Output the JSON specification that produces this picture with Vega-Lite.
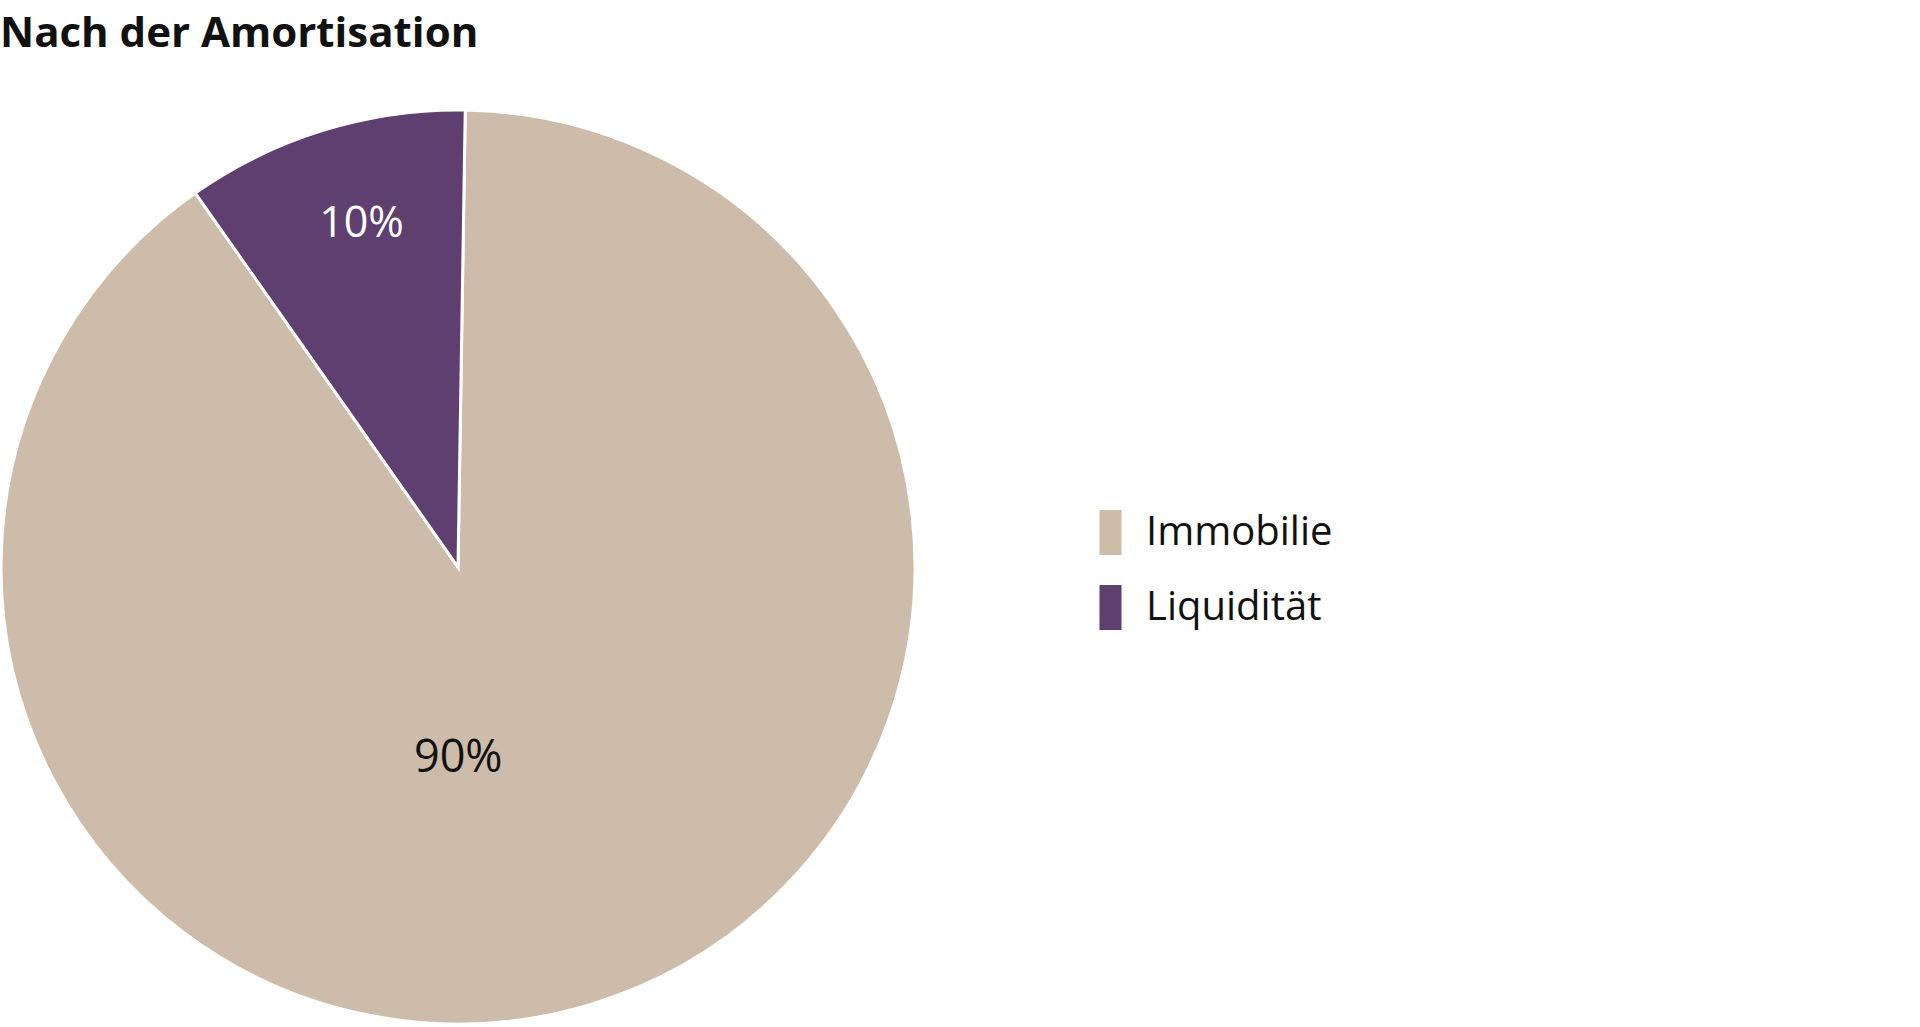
{
  "$schema": "https://vega.github.io/schema/vega-lite/v6.json",
  "autosize": {"type": "none"},
  "padding": {"left": 0, "top": 100, "right": 1004, "bottom": 0},
  "width": 916,
  "height": 934,
  "background": "white",
  "title": {
    "text": "Nach der Amortisation",
    "anchor": "start",
    "frame": "group",
    "font": "Open Sans",
    "fontSize": 42,
    "fontWeight": "bold",
    "color": "#111111",
    "offset": 44
  },
  "data": {
    "values": [
      {"k": "Immobilie", "share": 0.9},
      {"k": "Liquidität", "share": 0.1}
    ]
  },
  "encoding": {
    "theta": {
      "field": "share",
      "type": "quantitative",
      "stack": true,
      "scale": {"range": [0.016, 6.299]}
    },
    "order": {"field": "k", "type": "nominal"}
  },
  "layer": [
    {
      "mark": {"type": "arc", "outerRadius": 457, "stroke": "white", "strokeWidth": 3},
      "encoding": {
        "color": {
          "field": "k",
          "type": "nominal",
          "scale": {"domain": ["Immobilie", "Liquidität"], "range": ["#CDBCAA", "#5E3F70"]},
          "legend": {
            "orient": "none",
            "legendX": 1088,
            "legendY": 410,
            "title": null,
            "labelFont": "Open Sans",
            "labelFontSize": 40,
            "labelLimit": 0,
            "labelColor": "#111111",
            "labelOffset": 13,
            "symbolType": "M-0.49,-1H0.49V1H-0.49Z",
            "symbolSize": 2025,
            "symbolStrokeWidth": 0,
            "symbolOpacity": 1,
            "rowPadding": 30
          }
        }
      }
    },
    {
      "mark": {"type": "text", "radius": 356, "thetaOffset": 0.024, "font": "Open Sans", "fontSize": 43, "color": "white"},
      "encoding": {
        "detail": {"field": "k", "type": "nominal"},
        "text": {
          "condition": {"test": "datum.k === 'Liquidität'", "field": "share", "type": "quantitative", "format": ".0%"},
          "value": ""
        }
      }
    },
    {
      "mark": {"type": "text", "radius": 191, "thetaOffset": 0.297, "font": "Open Sans", "fontSize": 45, "color": "#111111"},
      "encoding": {
        "detail": {"field": "k", "type": "nominal"},
        "text": {
          "condition": {"test": "datum.k === 'Immobilie'", "field": "share", "type": "quantitative", "format": ".0%"},
          "value": ""
        }
      }
    }
  ]
}
